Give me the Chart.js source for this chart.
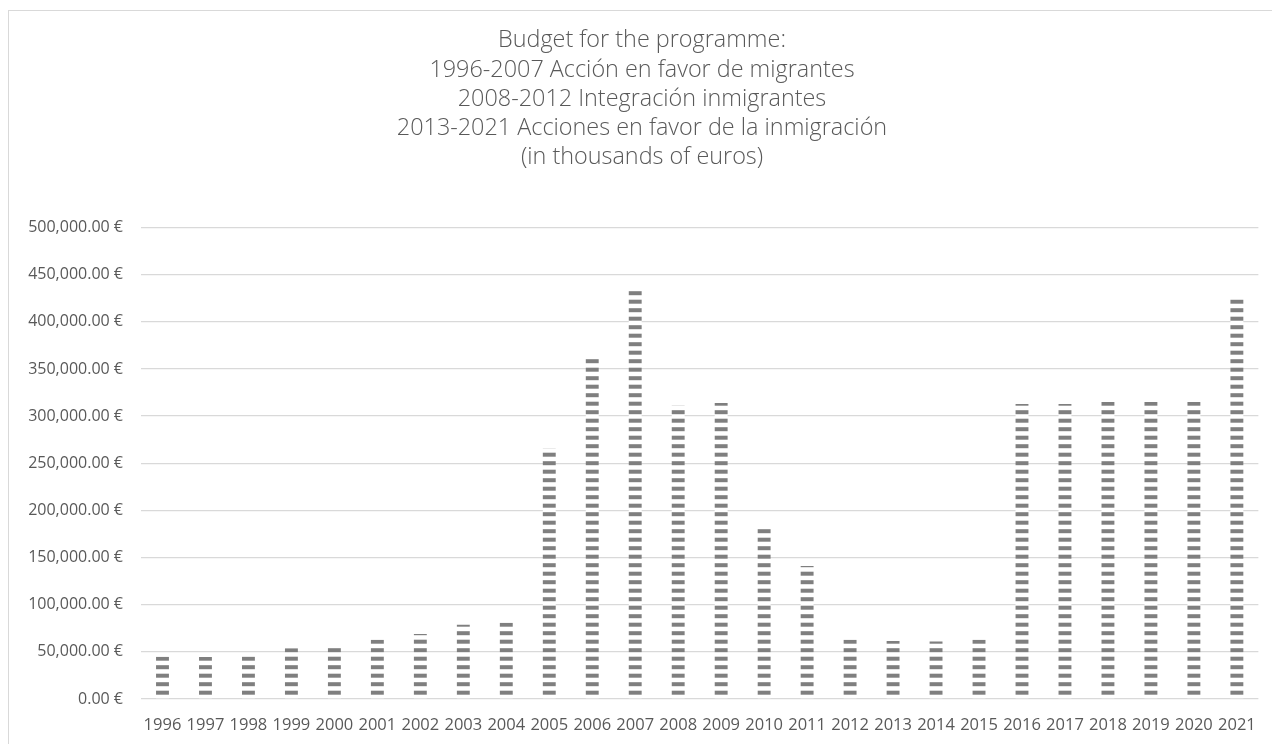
<!DOCTYPE html>
<html>
<head>
<meta charset="utf-8">
<script src="https://cdn.jsdelivr.net/npm/chart.js@4"></script>
<style>
  body { margin: 0; background: #fff; }
  #frame { position: absolute; left: 8px; top: 10px; width: 1280px; height: 760px; border: 1px solid #d9d9d9; box-sizing: border-box; }
  #wrap { position: absolute; left: 0; top: 0; width: 1272px; height: 744px; }
</style>
</head>
<body>
<div id="frame"></div>
<div id="wrap"><canvas id="budgetChart"></canvas></div>
<script>
const years = ["1996", "1997", "1998", "1999", "2000", "2001", "2002", "2003", "2004", "2005", "2006", "2007", "2008",
  "2009", "2010", "2011", "2012", "2013", "2014", "2015", "2016", "2017", "2018", "2019", "2020", "2021"];

const budget = [44900, 44600, 45000, 53700, 58300, 62900, 68900, 78800, 80900, 266000, 364700, 436800, 311000,
  314000, 184500, 141000, 62700, 61600, 60900, 62700, 312700, 312700, 315000, 315000, 315000, 424000];

const titleLines = [
  "Budget for the programme:",
  "1996-2007 Acción en favor de migrantes",
  "2008-2012 Integración inmigrantes",
  "2013-2021 Acciones en favor de la inmigración",
  "(in thousands of euros)"
];

const textGray = "#595959";

// striped fill (white with grey horizontal bars), lined up with the x axis
let stripeCache = {};
function stripes(ctx, bottom) {
  const key = bottom.toFixed(2);
  if (stripeCache[key]) return stripeCache[key];
  const c = document.createElement("canvas");
  c.width = 4;
  c.height = 17;
  const g = c.getContext("2d");
  g.fillStyle = "#ffffff";
  g.fillRect(0, 0, 4, 17);
  g.fillStyle = "#7f7f7f";
  [bottom - 8.3, bottom - 16.8].forEach(y => {
    let y0 = ((y % 17) + 17) % 17;
    for (let m = -1; m <= 1; m++) g.fillRect(0, y0 + m * 17, 4, 4);
  });
  stripeCache[key] = ctx.createPattern(c, "repeat");
  return stripeCache[key];
}

const ctx = document.getElementById("budgetChart").getContext("2d");

new Chart(ctx, {
  type: "bar",
  data: {
    labels: years,
    datasets: [{
      label: "Budget",
      data: budget,
      backgroundColor: (c) => {
        const area = c.chart.chartArea;
        if (!area) return "#7f7f7f";
        return stripes(c.chart.ctx, area.bottom);
      },
      borderWidth: 0,
      barPercentage: 0.3,
      categoryPercentage: 1
    }]
  },
  options: {
    responsive: true,
    maintainAspectRatio: false,
    animation: false,
    layout: { padding: { left: 25, right: 13, top: 0, bottom: 0 } },
    plugins: {
      legend: { display: false },
      tooltip: { enabled: false },
      title: {
        display: true,
        text: titleLines,
        color: textGray,
        font: { family: "'Open Sans'", size: 23.4, weight: "300", lineHeight: 1.252 },
        padding: { top: 26, bottom: 55 }
      }
    },
    scales: {
      x: {
        grid: { display: false, drawTicks: false },
        border: { display: false },
        ticks: {
          color: textGray,
          font: { family: "'Open Sans'", size: 16.5 },
          padding: 16,
          maxRotation: 0,
          autoSkip: false
        },
        afterFit: (s) => { s.height = 45; }
      },
      y: {
        min: 0,
        max: 500000,
        grid: { color: "#d9d9d9", lineWidth: 1.3, drawTicks: false },
        border: { display: false },
        ticks: {
          stepSize: 50000,
          color: textGray,
          font: { family: "'Open Sans'", size: 16 },
          padding: 18,
          callback: (v) => v.toLocaleString("en-US", { minimumFractionDigits: 2, maximumFractionDigits: 2 }) + " €"
        },
        afterFit: (s) => { s.width = 116; }
      }
    }
  }
});
</script>
</body>
</html>
